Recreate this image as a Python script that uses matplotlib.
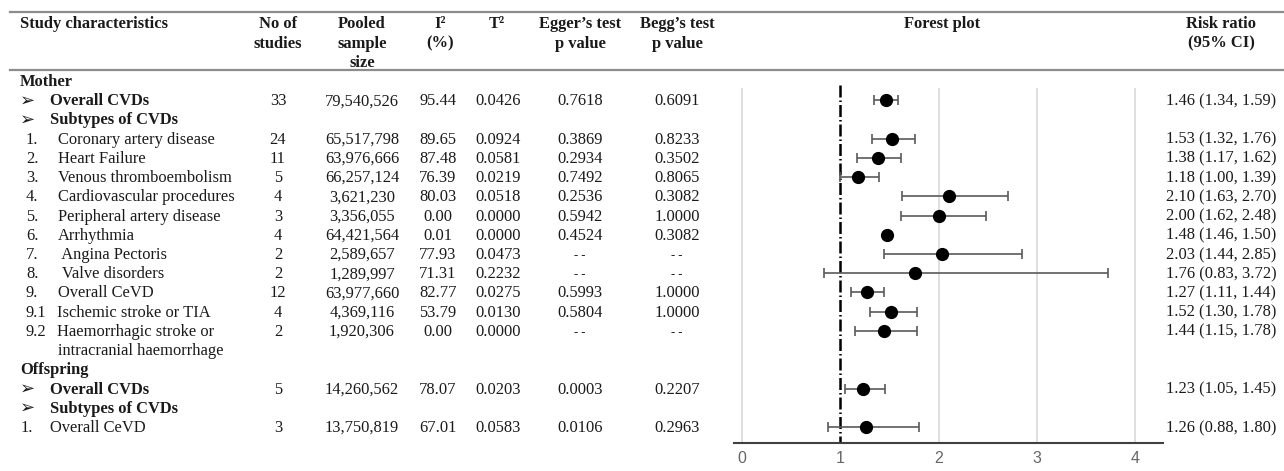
import matplotlib.pyplot as plt

# Table rows (text lines of the first column)
row_labels = [
    'Mother', 'Overall CVDs', 'Subtypes of CVDs',
    'Coronary artery disease', 'Heart Failure', 'Venous thromboembolism',
    'Cardiovascular procedures', 'Peripheral artery disease', 'Arrhythmia',
    ' Angina Pectoris', ' Valve disorders', 'Overall CeVD',
    'Ischemic stroke or TIA', 'Haemorrhagic stroke or', 'intracranial haemorrhage',
    'Offspring', 'Overall CVDs', 'Subtypes of CVDs', 'Overall CeVD',
]
row_prefix = ['', '➢', '➢', '1.', '2.', '3.', '4.', '5.', '6.', '7.', '8.', '9.',
              '9.1', '9.2', '', '', '➢', '➢', '1.']
row_kind = ['group', 'head', 'head', 'item', 'item', 'item', 'item', 'item', 'item',
            'item', 'item', 'item', 'item', 'item', 'item', 'group', 'head', 'head', 'item2']

# Rows that carry data
data_rows = [1, 3, 4, 5, 6, 7, 8, 9, 10, 11, 12, 13, 16, 18]
n_studies = [33, 24, 11, 5, 4, 3, 4, 2, 2, 12, 4, 2, 5, 3]
sample_size = ['79,540,526', '65,517,798', '63,976,666', '66,257,124', '3,621,230',
               '3,356,055', '64,421,564', '2,589,657', '1,289,997', '63,977,660',
               '4,369,116', '1,920,306', '14,260,562', '13,750,819']
i2 = [95.44, 89.65, 87.48, 76.39, 80.03, 0.00, 0.01, 77.93, 71.31, 82.77, 53.79, 0.00,
      78.07, 67.01]
t2 = [0.0426, 0.0924, 0.0581, 0.0219, 0.0518, 0.0000, 0.0000, 0.0473, 0.2232, 0.0275,
      0.0130, 0.0000, 0.0203, 0.0583]
egger = [0.7618, 0.3869, 0.2934, 0.7492, 0.2536, 0.5942, 0.4524, None, None, 0.5993,
         0.5804, None, 0.0003, 0.0106]
begg = [0.6091, 0.8233, 0.3502, 0.8065, 0.3082, 1.0000, 0.3082, None, None, 1.0000,
        1.0000, None, 0.2207, 0.2963]
rr = [1.46, 1.53, 1.38, 1.18, 2.10, 2.00, 1.48, 2.03, 1.76, 1.27, 1.52, 1.44, 1.23, 1.26]
rr_lo = [1.34, 1.32, 1.17, 1.00, 1.63, 1.62, 1.46, 1.44, 0.83, 1.11, 1.30, 1.15, 1.05, 0.88]
rr_hi = [1.59, 1.76, 1.62, 1.39, 2.70, 2.48, 1.50, 2.85, 3.72, 1.44, 1.78, 1.78, 1.45, 1.80]
x_ticks = [0, 1, 2, 3, 4]

W, H = 1284, 471
serif = ['Liberation Serif', 'DejaVu Sans']
fs = 11.9
row_y0, row_dy = 81, 19.22
base_shift = 5  # baseline sits this many pixels below the visual row centre


def fx(x):
    return x / W


def fy(y):
    return 1 - y / H


def put(x, y, s, ha='left', bold=False, size=fs, family=serif):
    fig.text(fx(x), fy(y + base_shift), s, ha=ha, va='baseline', family=family,
             weight='bold' if bold else 'normal', fontsize=size, color='#1a1a1a')


fig = plt.figure(figsize=(W / 100, H / 100), dpi=100)
fig.patch.set_facecolor('white')

# Rules of the table
for y in (12, 70):
    fig.add_artist(plt.Line2D([fx(10), fx(W)], [fy(y), fy(y)], color='#8c8c8c', lw=1.6))

# Header
put(20, 23, 'Study characteristics', bold=True)
headers = [
    (278, ['No of', 'studies']),
    (362, ['Pooled', 'sample', 'size']),
    (440, ['I²', '(%)']),
    (497, ['T²']),
    (580, ['Egger’s test', 'p value']),
    (677, ['Begg’s test', 'p value']),
    (942, ['Forest plot']),
    (1221, ['Risk ratio', '(95% CI)']),
]
for x, lines in headers:
    for k, line in enumerate(lines):
        put(x, 23 + k * 19.5, line, ha='center', bold=True)

# First column
for i, (lab, pre, kind) in enumerate(zip(row_labels, row_prefix, row_kind)):
    y = row_y0 + row_dy * i
    if kind == 'group':
        put(20, y, lab, bold=True)
    elif kind == 'head':
        put(20, y, pre, bold=True, size=13, family=['DejaVu Sans'])
        put(50, y, lab, bold=True)
    elif kind == 'item':
        if pre:
            put(26, y, pre)
        put(58 if len(pre) < 3 else 57, y, lab)
    else:
        put(21, y, pre)
        put(50, y, lab)


def fmt(v, nd):
    return '- -' if v is None else f'{v:.{nd}f}'


for j, r in enumerate(data_rows):
    y = row_y0 + row_dy * r
    put(278, y, str(n_studies[j]), ha='center')
    put(362, y, sample_size[j], ha='center')
    put(438, y, fmt(i2[j], 2), ha='center')
    put(498, y, fmt(t2[j], 4), ha='center')
    put(580, y, fmt(egger[j], 4), ha='center', size=fs if egger[j] is not None else 9)
    put(677, y, fmt(begg[j], 4), ha='center', size=fs if begg[j] is not None else 9)
    put(1221, y, f'{rr[j]:.2f} ({rr_lo[j]:.2f}, {rr_hi[j]:.2f})', ha='center')

# Forest plot panel
ax_top, ax_bot = 70, 443
ax = fig.add_axes([fx(734), fy(ax_bot), (1163 - 734) / W, (ax_bot - ax_top) / H])
ax.set_facecolor('none')
ax.set_xlim(-0.08, 4.28)
ax.set_ylim((ax_bot - row_y0) / row_dy, (ax_top - row_y0) / row_dy)

grid_top = (88 - row_y0) / row_dy
ymax = ax.get_ylim()[0]
for t in x_ticks:
    if t != 1:
        ax.vlines(t, grid_top, ymax, color='#d9d9d9', lw=1.2, zorder=0)
ax.vlines(1, (85 - row_y0) / row_dy, ymax, color='black', lw=1.8,
          linestyle=(0, (4.8, 1.2, 0.6, 1.2)), zorder=1)

pos = data_rows
xerr = [[m - lo for m, lo in zip(rr, rr_lo)], [hi - m for m, hi in zip(rr, rr_hi)]]
ax.errorbar(rr, pos, xerr=xerr, fmt='none', ecolor='#5a5a5a', elinewidth=1.2,
            capsize=3.5, capthick=1.2, zorder=2)
ax.plot(rr, pos, 'o', color='black', markersize=8.5, zorder=3)

for side in ('top', 'left', 'right'):
    ax.spines[side].set_visible(False)
ax.spines['bottom'].set_color('#404040')
ax.spines['bottom'].set_linewidth(1.5)
ax.set_yticks([])
ax.set_xticks(x_ticks)
ax.tick_params(axis='x', length=0, pad=6, labelsize=11.5, labelcolor='#666666')
for lbl in ax.get_xticklabels():
    lbl.set_family('Liberation Sans')

fig.savefig('out.png', dpi=100, facecolor='white')
